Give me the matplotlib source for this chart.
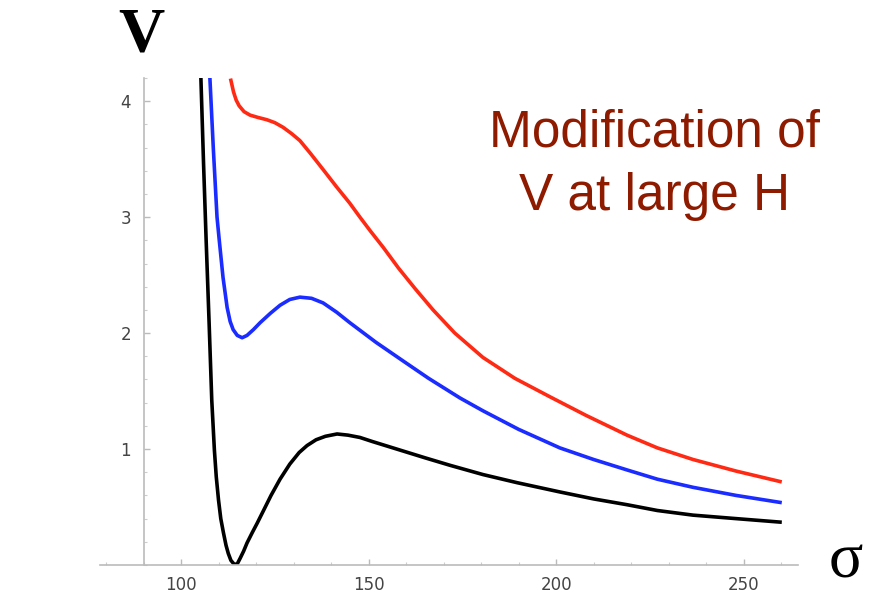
import matplotlib
matplotlib.use("Agg")
from matplotlib import pyplot as plt
from matplotlib.ticker import MultipleLocator

# values (sigma, V)
black_x = [105.3, 106.0, 106.7, 107.5, 108.2, 108.9, 109.4, 110.0, 110.6, 111.3,
           112.0, 112.6, 113.3, 114.2, 115.0, 115.8, 116.7, 117.6, 119.0, 120.3,
           122.0, 124.0, 126.4, 129.0, 131.5, 133.6, 136.0, 138.5, 141.6, 144.5,
           147.7, 151.0, 155.0, 160.0, 165.0, 171.7, 180.5, 189.6, 201.0, 210.0,
           218.9, 227.0, 236.5, 248.0, 259.7]
black_y = [4.20, 3.47, 2.80, 2.08, 1.42, 0.99, 0.76, 0.56, 0.40, 0.28,
           0.17, 0.10, 0.04, 0.005, 0.01, 0.06, 0.12, 0.19, 0.28, 0.36,
           0.47, 0.60, 0.74, 0.87, 0.97, 1.03, 1.08, 1.11, 1.13, 1.12,
           1.10, 1.065, 1.025, 0.975, 0.925, 0.86, 0.78, 0.71, 0.63, 0.57,
           0.52, 0.47, 0.43, 0.40, 0.37]

blue_x = [107.7, 108.6, 109.6, 110.2, 111.2, 112.3, 113.1, 113.9, 115.0, 116.3,
          117.6, 119.3, 121.1, 123.8, 126.4, 129.0, 131.7, 134.8, 137.9, 141.5,
          145.0, 152.0, 159.2, 166.0, 174.4, 180.5, 190.0, 201.0, 210.0, 218.9,
          227.0, 236.5, 248.0, 259.7]
blue_y = [4.20, 3.60, 3.00, 2.80, 2.48, 2.22, 2.10, 2.03, 1.98, 1.96,
          1.98, 2.03, 2.09, 2.17, 2.24, 2.29, 2.31, 2.30, 2.26, 2.18,
          2.09, 1.92, 1.76, 1.61, 1.44, 1.33, 1.17, 1.01, 0.91, 0.82,
          0.74, 0.67, 0.60, 0.54]

red_x = [113.3, 114.0, 114.7, 115.5, 116.8, 118.4, 120.5, 122.9, 125.0, 127.2,
         129.5, 131.7, 134.5, 137.9, 141.5, 145.0, 147.7, 150.5, 153.9, 158.0,
         162.5, 167.2, 173.0, 180.5, 189.0, 198.4, 208.0, 218.9, 227.0, 236.5,
         248.0, 259.7]
red_y = [4.18, 4.08, 4.01, 3.96, 3.91, 3.88, 3.86, 3.84, 3.815, 3.775,
         3.72, 3.66, 3.55, 3.41, 3.26, 3.12, 3.00, 2.88, 2.74, 2.56,
         2.38, 2.20, 2.00, 1.79, 1.61, 1.45, 1.29, 1.12, 1.01, 0.91,
         0.81, 0.72]

x_ticks = [100, 150, 200, 250]
y_ticks = [1, 2, 3, 4]

fig = plt.figure(figsize=(8.7, 5.93), dpi=100)
ax = fig.add_axes([100 / 870, 1 - 565 / 593, 698 / 870, 487 / 593])

ax.plot(black_x, black_y, color="black", lw=2.6, solid_joinstyle="round")
ax.plot(blue_x, blue_y, color="#1a2cff", lw=2.6, solid_joinstyle="round")
ax.plot(red_x, red_y, color="#ff2a14", lw=2.6, solid_joinstyle="round")

ax.set_xlim(78.4, 264.5)
ax.set_ylim(0, 4.2)

# axes cross like in Mathematica
ax.spines["left"].set_position(("data", 90))
ax.spines["bottom"].set_position(("data", 0))
ax.spines["top"].set_visible(False)
ax.spines["right"].set_visible(False)
for s in ("left", "bottom"):
    ax.spines[s].set_color("#bbbbbb")
    ax.spines[s].set_linewidth(1.2)

ax.set_xticks(x_ticks)
ax.set_yticks(y_ticks)
ax.xaxis.set_minor_locator(MultipleLocator(10))
ax.yaxis.set_minor_locator(MultipleLocator(0.2))
ax.tick_params(which="major", direction="in", length=4, width=1, color="#bbbbbb",
               labelsize=12, labelcolor="#444444")
ax.tick_params(which="minor", direction="in", length=2.5, width=0.8, color="#cccccc")
ax.tick_params(axis="x", pad=8)
ax.tick_params(axis="y", pad=9)

fig.text(141 / 870, 1 - 36 / 593, "V", family="Liberation Serif", weight="bold",
         fontsize=46, ha="center", va="center")
fig.text(846 / 870, 1 - 562 / 593, "σ", family="Liberation Serif",
         fontsize=46, ha="center", va="center")
fig.text(655 / 870, 1 - 165 / 593, "Modification of\nV at large H",
         family="Liberation Sans", fontsize=37, color="#8e1a00",
         ha="center", va="center", linespacing=1.38)

fig.savefig("out.png", dpi=100)
